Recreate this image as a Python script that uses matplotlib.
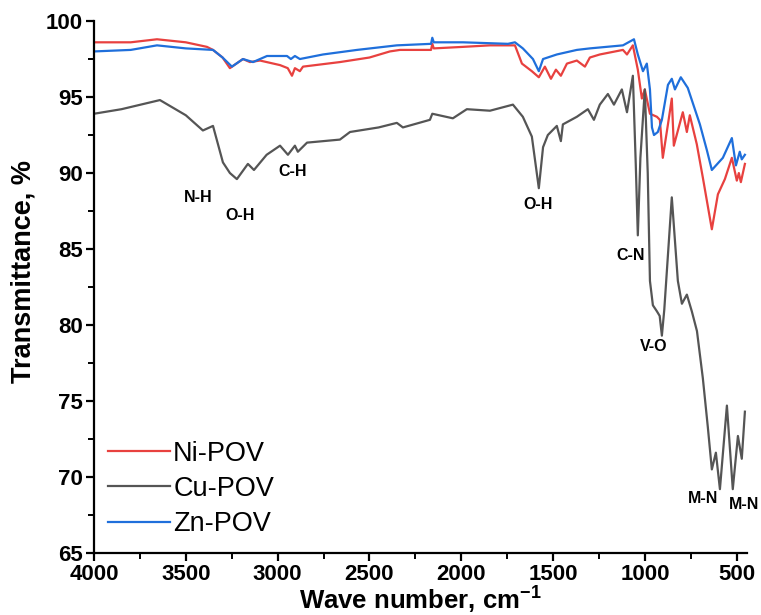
import matplotlib
matplotlib.use('Agg')
import matplotlib.pyplot as plt
from matplotlib.ticker import MultipleLocator

plt.rcParams['font.family'] = ['Liberation Sans', 'DejaVu Sans']
plt.rcParams['mathtext.fontset'] = 'custom'
plt.rcParams['mathtext.rm'] = 'Liberation Sans:bold'
plt.rcParams['mathtext.bf'] = 'Liberation Sans:bold'
plt.rcParams['mathtext.default'] = 'rm'

# Ni-POV (red)
ni_wn = [4000, 3800, 3657, 3500, 3385, 3352, 3300, 3260, 3189, 3151, 3096, 2987, 2945, 2922, 2906, 2879,
         2862, 2661, 2500, 2389, 2334, 2165, 2158, 2150, 1991, 1844, 1708, 1670, 1616, 1578, 1545, 1512,
         1485, 1458, 1425, 1371, 1327, 1300, 1246, 1120, 1098, 1066, 1039, 1017, 1001, 973, 935, 919,
         903, 875, 854, 843, 794, 772, 756, 718, 685, 636, 603, 565, 527, 500, 489, 478, 456]
ni_t = [98.6, 98.6, 98.8, 98.6, 98.3, 98.1, 97.6, 96.9, 97.5, 97.3, 97.4, 97.1, 96.9, 96.4, 96.9, 96.7,
        97.0, 97.3, 97.6, 98.0, 98.1, 98.1, 98.5, 98.2, 98.3, 98.4, 98.4, 97.2, 96.7, 96.3, 97.0, 96.2,
        96.8, 96.4, 97.2, 97.4, 97.0, 97.6, 97.8, 98.1, 97.8, 98.4, 96.8, 94.9, 95.5, 93.9, 93.7, 93.5,
        91.0, 93.2, 94.9, 91.8, 94.0, 92.7, 93.8, 91.9, 89.7, 86.3, 88.6, 89.6, 91.0, 89.5, 90.0, 89.4, 90.6]

# Cu-POV (grey)
cu_wn = [4000, 3850, 3641, 3500, 3407, 3352, 3298, 3260, 3222, 3162, 3129, 3060, 2987, 2944, 2906, 2890,
         2840, 2661, 2606, 2450, 2351, 2318, 2171, 2158, 2046, 1970, 1844, 1719, 1665, 1616, 1578, 1555,
         1529, 1480, 1458, 1447, 1371, 1311, 1278, 1246, 1202, 1169, 1126, 1098, 1066, 1050, 1039, 1025,
         1001, 985, 973, 957, 935, 920, 908, 895, 854, 821, 799, 772, 745, 717, 685, 658, 636, 614,
         592, 554, 522, 494, 473, 456]
cu_t = [93.9, 94.2, 94.8, 93.8, 92.8, 93.1, 90.7, 90.0, 89.6, 90.6, 90.2, 91.2, 91.8, 91.2, 91.8, 91.4,
        92.0, 92.2, 92.7, 93.0, 93.3, 93.0, 93.5, 93.9, 93.6, 94.2, 94.1, 94.5, 93.7, 92.4, 89.0, 91.7,
        92.5, 93.1, 92.1, 93.2, 93.7, 94.2, 93.5, 94.5, 95.2, 94.5, 95.5, 94.0, 96.4, 90.5, 85.9, 91.0,
        95.5, 90.0, 82.9, 81.3, 80.9, 80.6, 79.3, 81.0, 88.4, 82.9, 81.4, 82.0, 80.9, 79.6, 76.5, 73.3, 70.5, 71.6,
        69.2, 74.7, 69.2, 72.7, 71.2, 74.3]

# Zn-POV (blue)
zn_wn = [4000, 3800, 3657, 3500, 3352, 3300, 3249, 3189, 3134, 3058, 2949, 2928, 2906, 2879, 2753, 2568,
         2351, 2165, 2158, 2150, 1991, 1746, 1708, 1665, 1610, 1578, 1555, 1480, 1371, 1300, 1120, 1060,
         1039, 1011, 990, 973, 962, 951, 930, 908, 875, 854, 837, 805, 767, 701, 663, 636, 576, 527,
         505, 484, 473, 456]
zn_t = [98.0, 98.1, 98.4, 98.2, 98.1, 97.6, 97.0, 97.5, 97.3, 97.7, 97.7, 97.5, 97.7, 97.5, 97.8, 98.1,
        98.4, 98.5, 98.9, 98.6, 98.6, 98.5, 98.6, 98.2, 97.5, 96.7, 97.5, 97.8, 98.1, 98.2, 98.4, 98.8,
        97.8, 96.7, 97.2, 95.5, 93.0, 92.5, 92.7, 93.5, 95.8, 96.2, 95.5, 96.3, 95.6, 93.2, 91.5, 90.2, 91.0, 92.3,
        90.5, 91.4, 90.9, 91.2]

band_labels = ['N-H', 'O-H', 'C-H', 'O-H', 'C-N', 'V-O', 'M-N', 'M-N']
band_wn = [3434, 3205, 2917, 1583, 1077, 952, 685, 462]
band_t = [88.4, 87.2, 90.1, 87.9, 84.6, 78.6, 68.6, 68.2]

fig = plt.figure(figsize=(7.61, 6.15), dpi=100)
ax = fig.add_axes([0.1235, 0.1008, 0.858, 0.865])

ax.plot(ni_wn, ni_t, color='#E8413F', lw=1.6, label='Ni-POV')
ax.plot(cu_wn, cu_t, color='#555555', lw=1.6, label='Cu-POV')
ax.plot(zn_wn, zn_t, color='#1F6FDB', lw=1.6, label='Zn-POV')

for lab, x, y in zip(band_labels, band_wn, band_t):
    ax.text(x, y, lab, fontsize=11.5, fontweight='bold', ha='center', va='center')

ax.set_xlim(4000, 445)
ax.set_ylim(65, 100)
ax.xaxis.set_major_locator(MultipleLocator(500))
ax.xaxis.set_minor_locator(MultipleLocator(250))
ax.yaxis.set_major_locator(MultipleLocator(5))
ax.yaxis.set_minor_locator(MultipleLocator(2.5))

for s in ['top', 'right']:
    ax.spines[s].set_visible(False)
for s in ['left', 'bottom']:
    ax.spines[s].set_linewidth(1.6)
ax.tick_params(which='major', length=6, width=1.6, labelsize=16, pad=2)
ax.tick_params(which='minor', length=4, width=1.4)
for lbl in ax.get_xticklabels() + ax.get_yticklabels():
    lbl.set_fontweight('bold')

ax.set_xlabel('Wave number, cm$^{-1}$', fontsize=18.5, fontweight='bold', labelpad=0)
ax.set_ylabel('Transmittance, %', fontsize=19.5, fontweight='bold')
ax.yaxis.set_label_coords(-0.088, 0.53)

ax.legend(loc='lower left', bbox_to_anchor=(0.021, 0.03), frameon=False, fontsize=19.5,
          handlelength=2.3, handletextpad=0.12, labelspacing=0.34, borderpad=0, borderaxespad=0)

fig.savefig('out.png', dpi=100)
